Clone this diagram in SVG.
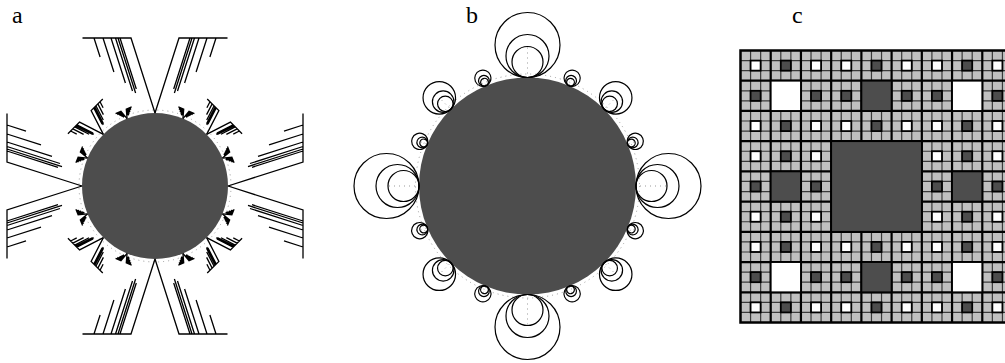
<svg xmlns="http://www.w3.org/2000/svg" xmlns:xlink="http://www.w3.org/1999/xlink" width="1005" height="363" viewBox="0 0 1005 363">
<style>
.lbl{font-family:"Liberation Serif","DejaVu Serif",serif;font-size:24px;fill:#000}
.ln{fill:none;stroke:#000;stroke-width:1.3;vector-effect:non-scaling-stroke;stroke-linecap:butt}
.cir{fill:none;stroke:#000;stroke-width:1.2;vector-effect:non-scaling-stroke}
.dot{fill:none;stroke:#999;stroke-width:1;stroke-dasharray:1 4;vector-effect:non-scaling-stroke}
.disk{fill:#4d4d4d}
.thin{fill:none;stroke:#3a3a3a;stroke-width:1.2}
.thick{fill:none;stroke:#000;stroke-width:2.2}
.mw{fill:#fff;stroke:#000;stroke-width:1.8}
.md{fill:#4d4d4d;stroke:#000;stroke-width:1.8}
</style>
<defs>
<g id="arm">
<path class="ln" d="M0,0 L-24,-75 L-72.5,-75 M-61,-75 L-54.9,-56 M-52,-75 L-41.1,-41 M-44,-75 L-29.6,-30 M-39.5,-75 L-22.5,-22 M-37,-75 L-19.4,-20 M-35,-75 L-18.7,-24"/>
</g>
<g id="vee">
<use xlink:href="#arm"/>
<use xlink:href="#arm" transform="scale(-1,1)"/>
</g>
<g id="trio">
<circle class="cir" cx="0" cy="-32.5" r="32.5"/>
<circle class="cir" cx="0" cy="-21.5" r="21.5"/>
<circle class="cir" cx="0" cy="-15.5" r="15.5"/>
<path class="dot" d="M0,-4 V-30"/>
</g>
<g id="rowA">
<rect class="mw" x="750.57" y="0" width="10.07" height="10.07"/>
<rect class="md" x="780.80" y="0" width="10.07" height="10.07"/>
<rect class="mw" x="811.02" y="0" width="10.07" height="10.07"/>
<rect class="mw" x="841.24" y="0" width="10.07" height="10.07"/>
<rect class="md" x="871.46" y="0" width="10.07" height="10.07"/>
<rect class="mw" x="901.69" y="0" width="10.07" height="10.07"/>
<rect class="mw" x="931.91" y="0" width="10.07" height="10.07"/>
<rect class="md" x="962.13" y="0" width="10.07" height="10.07"/>
<rect class="mw" x="992.35" y="0" width="10.07" height="10.07"/>
</g>
<g id="rowB">
<rect class="md" x="750.57" y="0" width="10.07" height="10.07"/>
<rect class="md" x="811.02" y="0" width="10.07" height="10.07"/>
<rect class="md" x="841.24" y="0" width="10.07" height="10.07"/>
<rect class="md" x="901.69" y="0" width="10.07" height="10.07"/>
<rect class="md" x="931.91" y="0" width="10.07" height="10.07"/>
<rect class="md" x="992.35" y="0" width="10.07" height="10.07"/>
</g>
<g id="rowC">
<rect class="mw" x="750.57" y="0" width="10.07" height="10.07"/>
<rect class="md" x="780.80" y="0" width="10.07" height="10.07"/>
<rect class="mw" x="811.02" y="0" width="10.07" height="10.07"/>
<rect class="mw" x="931.91" y="0" width="10.07" height="10.07"/>
<rect class="md" x="962.13" y="0" width="10.07" height="10.07"/>
<rect class="mw" x="992.35" y="0" width="10.07" height="10.07"/>
</g>
<g id="rowD">
<rect class="md" x="750.57" y="0" width="10.07" height="10.07"/>
<rect class="md" x="811.02" y="0" width="10.07" height="10.07"/>
<rect class="md" x="931.91" y="0" width="10.07" height="10.07"/>
<rect class="md" x="992.35" y="0" width="10.07" height="10.07"/>
</g>
</defs>

<g id="labels">
<text class="lbl" x="12" y="23">a</text>
<text class="lbl" x="466" y="23">b</text>
<text class="lbl" x="792" y="23">c</text>
</g>

<g id="panel-a">
<circle class="dot" cx="155" cy="186" r="76"/>
<circle class="disk" cx="155" cy="186" r="73"/>
<g transform="translate(155,186)">
<use xlink:href="#vee" transform="rotate(0) translate(0,-73)"/>
<use xlink:href="#vee" transform="rotate(90) translate(0,-73)"/>
<use xlink:href="#vee" transform="rotate(180) translate(0,-73)"/>
<use xlink:href="#vee" transform="rotate(270) translate(0,-73)"/>
<use xlink:href="#vee" transform="rotate(45) translate(0,-73) scale(0.34)"/>
<use xlink:href="#vee" transform="rotate(135) translate(0,-73) scale(0.34)"/>
<use xlink:href="#vee" transform="rotate(225) translate(0,-73) scale(0.34)"/>
<use xlink:href="#vee" transform="rotate(315) translate(0,-73) scale(0.34)"/>
<use xlink:href="#vee" transform="rotate(22.5) translate(0,-73) scale(0.12)"/>
<use xlink:href="#vee" transform="rotate(67.5) translate(0,-73) scale(0.12)"/>
<use xlink:href="#vee" transform="rotate(112.5) translate(0,-73) scale(0.12)"/>
<use xlink:href="#vee" transform="rotate(157.5) translate(0,-73) scale(0.12)"/>
<use xlink:href="#vee" transform="rotate(202.5) translate(0,-73) scale(0.12)"/>
<use xlink:href="#vee" transform="rotate(247.5) translate(0,-73) scale(0.12)"/>
<use xlink:href="#vee" transform="rotate(292.5) translate(0,-73) scale(0.12)"/>
<use xlink:href="#vee" transform="rotate(337.5) translate(0,-73) scale(0.12)"/>
</g>
</g>

<g id="panel-b">
<circle class="dot" cx="527.5" cy="186" r="112"/>
<circle class="disk" cx="527.5" cy="186" r="108.5"/>
<g transform="translate(527.5,186)">
<use xlink:href="#trio" transform="rotate(0) translate(0,-108.5)"/>
<use xlink:href="#trio" transform="rotate(90) translate(0,-108.5)"/>
<use xlink:href="#trio" transform="rotate(180) translate(0,-108.5)"/>
<use xlink:href="#trio" transform="rotate(270) translate(0,-108.5)"/>
<use xlink:href="#trio" transform="rotate(45) translate(0,-108.5) scale(0.5)"/>
<use xlink:href="#trio" transform="rotate(135) translate(0,-108.5) scale(0.5)"/>
<use xlink:href="#trio" transform="rotate(225) translate(0,-108.5) scale(0.5)"/>
<use xlink:href="#trio" transform="rotate(315) translate(0,-108.5) scale(0.5)"/>
<use xlink:href="#trio" transform="rotate(22.5) translate(0,-108.5) scale(0.25)"/>
<use xlink:href="#trio" transform="rotate(67.5) translate(0,-108.5) scale(0.25)"/>
<use xlink:href="#trio" transform="rotate(112.5) translate(0,-108.5) scale(0.25)"/>
<use xlink:href="#trio" transform="rotate(157.5) translate(0,-108.5) scale(0.25)"/>
<use xlink:href="#trio" transform="rotate(202.5) translate(0,-108.5) scale(0.25)"/>
<use xlink:href="#trio" transform="rotate(247.5) translate(0,-108.5) scale(0.25)"/>
<use xlink:href="#trio" transform="rotate(292.5) translate(0,-108.5) scale(0.25)"/>
<use xlink:href="#trio" transform="rotate(337.5) translate(0,-108.5) scale(0.25)"/>
</g>
</g>

<g id="panel-c">
<rect x="740.5" y="50.5" width="272" height="272" fill="#c0c0c0"/>
<path class="thin" d="M750.57,50.5V322.5M760.65,50.5V322.5M780.80,50.5V322.5M790.87,50.5V322.5M811.02,50.5V322.5M821.09,50.5V322.5M841.24,50.5V322.5M851.31,50.5V322.5M871.46,50.5V322.5M881.54,50.5V322.5M901.69,50.5V322.5M911.76,50.5V322.5M931.91,50.5V322.5M941.98,50.5V322.5M962.13,50.5V322.5M972.20,50.5V322.5M992.35,50.5V322.5M1002.43,50.5V322.5
M740.5,60.57H1012.5M740.5,70.65H1012.5M740.5,90.80H1012.5M740.5,100.87H1012.5M740.5,121.02H1012.5M740.5,131.09H1012.5M740.5,151.24H1012.5M740.5,161.31H1012.5M740.5,181.46H1012.5M740.5,191.54H1012.5M740.5,211.69H1012.5M740.5,221.76H1012.5M740.5,241.91H1012.5M740.5,251.98H1012.5M740.5,272.13H1012.5M740.5,282.20H1012.5M740.5,302.35H1012.5M740.5,312.43H1012.5"/>
<path class="thick" d="M770.72,50.5V322.5M800.94,50.5V322.5M831.17,50.5V322.5M861.39,50.5V322.5M891.61,50.5V322.5M921.83,50.5V322.5M952.06,50.5V322.5M982.28,50.5V322.5
M740.5,80.72H1012.5M740.5,110.94H1012.5M740.5,141.17H1012.5M740.5,171.39H1012.5M740.5,201.61H1012.5M740.5,231.83H1012.5M740.5,262.06H1012.5M740.5,292.28H1012.5"/>
<use xlink:href="#rowA" y="60.57"/>
<use xlink:href="#rowB" y="90.80"/>
<use xlink:href="#rowA" y="121.02"/>
<use xlink:href="#rowC" y="151.24"/>
<use xlink:href="#rowD" y="181.46"/>
<use xlink:href="#rowC" y="211.69"/>
<use xlink:href="#rowA" y="241.91"/>
<use xlink:href="#rowB" y="272.13"/>
<use xlink:href="#rowA" y="302.35"/>
<rect class="mw" x="770.72" y="80.72" width="30.22" height="30.22"/>
<rect class="md" x="861.39" y="80.72" width="30.22" height="30.22"/>
<rect class="mw" x="952.06" y="80.72" width="30.22" height="30.22"/>
<rect class="md" x="770.72" y="171.39" width="30.22" height="30.22"/>
<rect class="md" x="952.06" y="171.39" width="30.22" height="30.22"/>
<rect class="mw" x="770.72" y="262.06" width="30.22" height="30.22"/>
<rect class="md" x="861.39" y="262.06" width="30.22" height="30.22"/>
<rect class="mw" x="952.06" y="262.06" width="30.22" height="30.22"/>
<rect class="md" x="831.17" y="141.17" width="90.67" height="90.67"/>
<rect x="740.5" y="50.5" width="272" height="272" fill="none" stroke="#000" stroke-width="2.5"/>
</g>
</svg>
